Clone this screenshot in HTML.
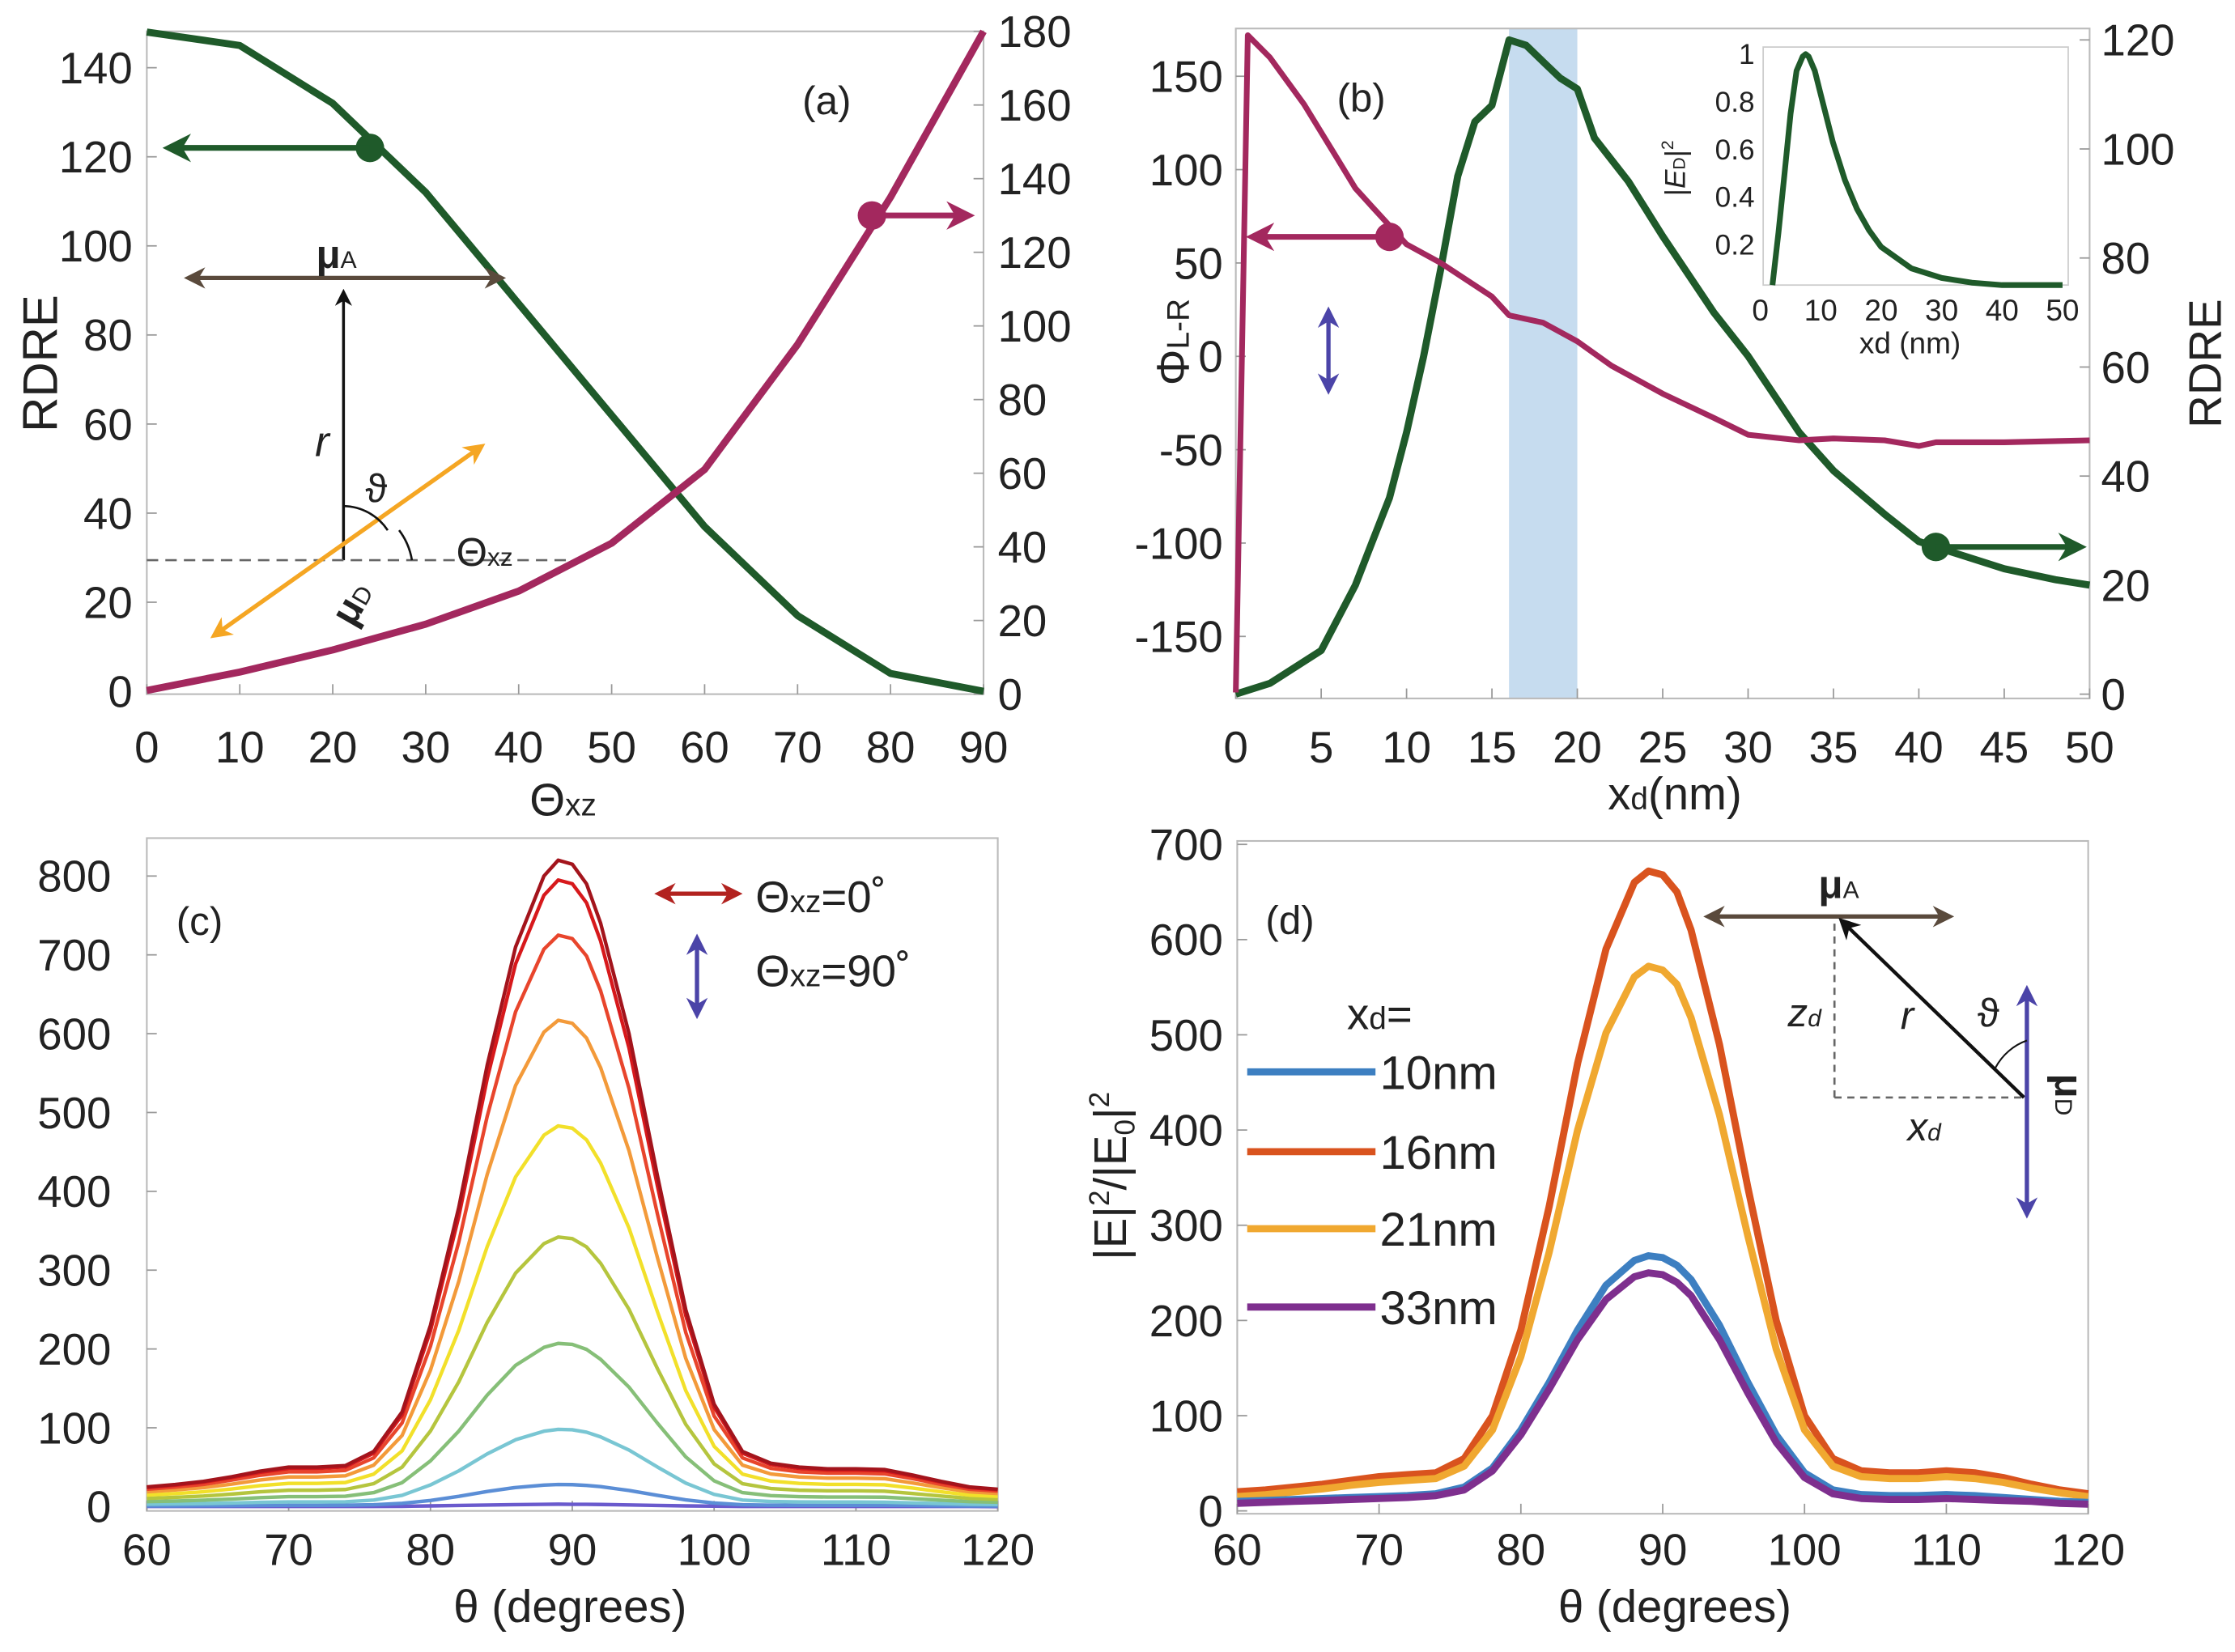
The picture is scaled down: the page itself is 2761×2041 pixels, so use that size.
<!DOCTYPE html>
<html><head><meta charset="utf-8"><style>
html,body{margin:0;padding:0;background:#fff;}
svg{display:block;}
text{font-family:"Liberation Sans",sans-serif;fill:#222;}
</style></head><body>
<svg id="chart" width="2761" height="2041" viewBox="0 0 1568 1159" preserveAspectRatio="none" xmlns="http://www.w3.org/2000/svg">
<defs>
<marker id="ag" viewBox="0 0 10 10" refX="8" refY="5" markerWidth="5" markerHeight="5" orient="auto-start-reverse"><path d="M0,0 L10,5 L0,10 L3,5 z" fill="#1f5a2a"/></marker>
<marker id="ap" viewBox="0 0 10 10" refX="8" refY="5" markerWidth="5" markerHeight="5" orient="auto-start-reverse"><path d="M0,0 L10,5 L0,10 L3,5 z" fill="#a3285e"/></marker>
<marker id="ab" viewBox="0 0 10 10" refX="8" refY="5" markerWidth="5" markerHeight="5" orient="auto-start-reverse"><path d="M0,0 L10,5 L0,10 L3,5 z" fill="#5a4a3c"/></marker>
<marker id="ak" viewBox="0 0 10 10" refX="8" refY="5" markerWidth="6" markerHeight="6" orient="auto-start-reverse"><path d="M0,0 L10,5 L0,10 L3,5 z" fill="#111"/></marker>
<marker id="ao" viewBox="0 0 10 10" refX="8" refY="5" markerWidth="5" markerHeight="5" orient="auto-start-reverse"><path d="M0,0 L10,5 L0,10 L3,5 z" fill="#f5a623"/></marker>
<marker id="av" viewBox="0 0 10 10" refX="8" refY="5" markerWidth="5" markerHeight="5" orient="auto-start-reverse"><path d="M0,0 L10,5 L0,10 L3,5 z" fill="#4b44a8"/></marker>
<marker id="ar" viewBox="0 0 10 10" refX="8" refY="5" markerWidth="5" markerHeight="5" orient="auto-start-reverse"><path d="M0,0 L10,5 L0,10 L3,5 z" fill="#b2221f"/></marker>
</defs>
</svg>
<script>
// ---- panel (a) data ----
const aTheta = [0,10,20,25,30,40,50,60,70,80,90];
const aRdre = [148,145,132,122,112,87,62,37,17,4,0];
const aPhiTheta = [0,10,20,30,40,50,60,70,80,90];
const aPhi = [1,6,12,19,28,41,61,95,135,180];
const aXTicks = [0,10,20,30,40,50,60,70,80,90];
const aYLTicks = [0,20,40,60,80,100,120,140];
const aYRTicks = [0,20,40,60,80,100,120,140,160,180];
// ---- panel (b) data ----
const bXp = [0,0.7,2,4,6,7,8,9,10,12,14,15,16,18,20,22,25,28,30,33,35,38,40,41,45,50];
const bPhi = [-180,172,160,135,105,90,80,70,60,50,38,32,22,18,8,-5,-20,-33,-42,-45,-44,-45,-48,-46,-46,-45];
const bXg = [0,2,5,7,8,9,10,11,12,13,14,15,16,17,18,19,20,21,23,25,28,30,33,35,38,40,42,45,48,50];
const bRdre = [0,2,8,20,28,36,48,62,78,95,105,108,120,119,116,113,111,102,94,84,70,62,48,41,33,28,26,23,21,20];
const bXTicks = [0,5,10,15,20,25,30,35,40,45,50];
const bYLTicks = [-150,-100,-50,0,50,100,150];
const bYRTicks = [0,20,40,60,80,100,120];
const insX = [2,3,4,5,6,7,7.5,8,9,10,12,14,16,18,20,25,30,35,40,50];
const insY = [0.03,0.25,0.5,0.75,0.93,0.99,1.0,0.99,0.93,0.83,0.63,0.47,0.35,0.26,0.19,0.1,0.06,0.04,0.03,0.03];
const insXTicks = [0,10,20,30,40,50];
const insYTicks = [0.2,0.4,0.6,0.8,1];
// ---- panel (c) data ----
const cTheta = [60,62,64,66,68,70,72,74,76,78,80,82,84,86,88,89,90,91,92,94,96,98,100,102,104,106,108,110,112,114,116,118,120];
const cShape = [25,28,32,38,45,50,50,52,70,120,230,380,560,710,800,820,815,790,740,600,420,250,130,70,55,50,48,48,47,40,32,25,22];
const cPeaks = [820,795,725,617,483,342,207,98,28,3];
const cColors = ['#a3141c','#d7191c','#e8452c','#f39a3a','#f2e02a','#b5c53e','#86bf78','#79c6d3','#5b8ed6','#6a5acd'];
const cXTicks = [60,70,80,90,100,110,120];
const cYTicks = [0,100,200,300,400,500,600,700,800];
// ---- panel (d) data ----
const dTheta = cTheta;
const d10 = [10,11,12,13,14,15,16,18,25,45,85,135,190,237,263,268,266,258,243,195,135,80,40,22,17,16,16,17,16,14,12,10,9];
const d16 = [20,22,25,28,32,36,38,40,55,100,190,320,470,590,660,672,668,650,610,490,340,200,100,55,42,40,40,42,40,35,28,22,18];
const d21 = [15,17,20,23,27,30,32,34,47,85,162,272,400,502,561,572,568,553,518,416,289,170,85,47,36,34,34,36,34,30,24,19,15];
const d33 = [8,9,10,11,12,13,14,16,22,42,80,128,180,222,246,250,248,240,226,180,124,72,35,18,13,12,12,13,12,11,10,8,7];
const dLabels = ['10nm','16nm','21nm','33nm'];
const dColors = ['#3d7fc1','#d9531e','#f0a830','#7e2f8e'];
const dXTicks = [60,70,80,90,100,110,120];
const dYTicks = [0,100,200,300,400,500,600,700];

const svg = document.getElementById('chart');
const NS = 'http://www.w3.org/2000/svg';
function mk(tag, name, attrs, parent){
  const e = document.createElementNS(NS, tag);
  
  
  for (const k in attrs) e.setAttribute(k, attrs[k]);
  (parent||svg).appendChild(e);
  return e;
}
function txt(name, x, y, s, size, anchor, extra){
  const t = mk('text', name, Object.assign({x:x, y:y, 'font-size':size, 'text-anchor':anchor||'middle'}, extra||{}));
  t.innerHTML = s;
  return t;
}
function poly(name, xs, ys, fx, fy, color, w){
  const pts = xs.map((x,i)=>fx(x).toFixed(1)+','+fy(ys[i]).toFixed(1)).join(' ');
  return mk('polyline', name, {points:pts, fill:'none', stroke:color, 'stroke-width':w, 'stroke-linejoin':'round'});
}
function frame(name,x0,y0,x1,y1){
  mk('rect', name, {x:x0,y:y0,width:x1-x0,height:y1-y0,fill:'none',stroke:'#bbb','stroke-width':1.2});
}
function line(name,x1,y1,x2,y2,color,w,extra){
  return mk('line', name, Object.assign({x1:x1,y1:y1,x2:x2,y2:y2,stroke:color,'stroke-width':w}, extra||{}));
}

// ================= Panel (a) =================
const ax = v => 103 + v/90*587;
const ayL = v => 485 - v*3.125;
const ayR = v => 487 - v*(465/180);
frame('panel-a-frame',103,22,690,487);
aXTicks.forEach(v=>{ line('a-x-tick',ax(v),487,ax(v),480,'#999',1); txt('a-x-tick-label',ax(v),535,v,31); });
aYLTicks.forEach(v=>{ line('a-yl-tick',103,ayL(v),110,ayL(v),'#999',1); txt('a-yl-tick-label',93,ayL(v)+11,v,31,'end'); });
aYRTicks.forEach(v=>{ line('a-yr-tick',690,ayR(v),683,ayR(v),'#999',1); txt('a-yr-tick-label',700,ayR(v)+11,v,31,'start'); });
txt('a-y-axis-title',0,0,'RDRE',34,'middle',{transform:'translate(40,255) rotate(-90)'});
txt('a-x-axis-title',395,572,'Θ<tspan font-size="22">xz</tspan>',32);
txt('a-panel-label',580,80,'(a)',28);
poly('a-rdre-line',aTheta,aRdre,ax,ayL,'#1f5a2a',5);
poly('a-phi-line',aPhiTheta,aPhi,ax,ayR,'#a3285e',5);
mk('circle','a-rdre-marker',{cx:ax(24),cy:ayL(122),r:10,fill:'#1f5a2a'});
line('a-rdre-axis-arrow',ax(24),ayL(122),118,ayL(122),'#1f5a2a',4,{'marker-end':'url(#ag)'});
mk('circle','a-phi-marker',{cx:ax(78),cy:ayR(130),r:10,fill:'#a3285e'});
line('a-phi-axis-arrow',ax(78),ayR(130),680,ayR(130),'#a3285e',4,{'marker-end':'url(#ap)'});
// diagram
line('a-mu-a-arrow',132,195,352,195,'#5a4a3c',3,{'marker-start':'url(#ab)','marker-end':'url(#ab)'});
line('a-r-arrow',241,393,241,205,'#111',2,{'marker-end':'url(#ak)'});
line('a-dashed-line',103,393,400,393,'#666',1.5,{'stroke-dasharray':'8,5'});
line('a-mu-d-arrow',150,446,338,313,'#f5a623',3,{'marker-start':'url(#ao)','marker-end':'url(#ao)'});
mk('path','a-theta-arc',{d:'M241,355 A38,38 0 0 1 272,372',fill:'none',stroke:'#111','stroke-width':1.5});
mk('path','a-big-theta-arc',{d:'M280,372 A48,48 0 0 1 289,393',fill:'none',stroke:'#111','stroke-width':1.5});
txt('a-mu-a-label',236,188,'<tspan font-weight="bold">μ</tspan><tspan font-size="17">A</tspan>',28);
txt('a-r-label',226,320,'r',30,'middle',{'font-style':'italic'});
txt('a-vartheta-label',264,352,'ϑ',28);
txt('a-theta-xz-label',340,397,'Θ<tspan font-size="18">xz</tspan>',28);
txt('a-mu-d-label',0,0,'<tspan font-weight="bold">μ</tspan><tspan font-size="17">D</tspan>',28,'middle',{transform:'translate(255,428) rotate(-60)'});

// ================= Panel (b) =================
const bx = v => 867 + v/50*599;
const byL = v => 250 - v*1.31;
const byR = v => 487 - v*3.825;
mk('rect','b-highlight-band',{x:bx(16),y:20,width:bx(20)-bx(16),height:470,fill:'#c6dcef'});
frame('panel-b-frame',867,20,1466,490);
bXTicks.forEach(v=>{ line('b-x-tick',bx(v),490,bx(v),483,'#999',1); txt('b-x-tick-label',bx(v),535,v,31); });
bYLTicks.forEach(v=>{ line('b-yl-tick',867,byL(v),874,byL(v),'#999',1); txt('b-yl-tick-label',858,byL(v)+11,v,31,'end'); });
bYRTicks.forEach(v=>{ line('b-yr-tick',1466,byR(v),1459,byR(v),'#999',1); txt('b-yr-tick-label',1474,byR(v)+11,v,31,'start'); });
txt('b-y-left-title',0,0,'Φ<tspan font-size="22">L-R</tspan>',32,'middle',{transform:'translate(834,240) rotate(-90)'});
txt('b-y-right-title',0,0,'RDRE',32,'middle',{transform:'translate(1558,255) rotate(-90)'});
txt('b-x-axis-title',1175,568,'x<tspan font-size="22">d</tspan>(nm)',32);
txt('b-panel-label',955,78,'(b)',28);
poly('b-rdre-line',bXg,bRdre,bx,byR,'#1f5a2a',5);
poly('b-phi-line',bXp,bPhi,bx,byL,'#a3285e',4);
mk('circle','b-phi-marker',{cx:bx(9),cy:byL(64),r:10,fill:'#a3285e'});
line('b-phi-axis-arrow',bx(9),byL(64),878,byL(64),'#a3285e',4,{'marker-end':'url(#ap)'});
mk('circle','b-rdre-marker',{cx:bx(41),cy:byR(27),r:10,fill:'#1f5a2a'});
line('b-rdre-axis-arrow',bx(41),byR(27),1460,byR(27),'#1f5a2a',4,{'marker-end':'url(#ag)'});
line('b-dipole-arrow',932,218,932,274,'#4b44a8',3,{'marker-start':'url(#av)','marker-end':'url(#av)'});
// inset
const ix = v => 1235 + v/50*212;
const iy = v => 205 - v*167;
mk('rect','inset-bg',{x:1237,y:33,width:214,height:167,fill:'#fff',stroke:'#ccc','stroke-width':1});
insXTicks.forEach(v=>{ txt('inset-x-tick-label',ix(v),225,v,21); });
insYTicks.forEach(v=>{ txt('inset-y-tick-label',1231,iy(v)+7,v,20,'end'); });
txt('inset-x-title',1340,248,'xd (nm)',21);
txt('inset-y-title',0,0,'|<tspan font-style="italic">E</tspan><tspan font-size="12">D</tspan>|<tspan font-size="12" dy="-8">2</tspan>',20,'middle',{transform:'translate(1182,118) rotate(-90)'});
poly('inset-line',insX,insY,ix,iy,'#1f5a2a',4);

// ================= Panel (c) =================
const cx = v => 103 + (v-60)/60*597;
const cy = v => 1057 - v*0.553;
frame('panel-c-frame',103,588,700,1060);
cXTicks.forEach(v=>{ line('c-x-tick',cx(v),1060,cx(v),1053,'#999',1); txt('c-x-tick-label',cx(v),1098,v,31); });
cYTicks.forEach(v=>{ line('c-y-tick',103,cy(v),110,cy(v),'#999',1); txt('c-y-tick-label',78,cy(v)+11,v,31,'end'); });
txt('c-x-axis-title',400,1138,'θ (degrees)',32);
txt('c-panel-label',140,656,'(c)',28);
cPeaks.slice().reverse().forEach((p,j)=>{
  const i = cPeaks.length-1-j;
  const ys = cShape.map(s=>s/820*p);
  poly('c-curve-'+i,cTheta,ys,cx,cy,cColors[i],2.5);
});
line('c-legend-arrow-0',462,627,518,627,'#b2221f',3,{'marker-start':'url(#ar)','marker-end':'url(#ar)'});
txt('c-legend-label-0',530,640,'Θ<tspan font-size="22">xz</tspan>=0˚',31,'start');
line('c-legend-arrow-90',489,658,489,712,'#4b44a8',3,{'marker-start':'url(#av)','marker-end':'url(#av)'});
txt('c-legend-label-90',530,692,'Θ<tspan font-size="22">xz</tspan>=90˚',31,'start');

// ================= Panel (d) =================
const dx = v => 868 + (v-60)/60*597;
const dy = v => 1060 - v*0.668;
frame('panel-d-frame',868,590,1465,1062);
dXTicks.forEach(v=>{ line('d-x-tick',dx(v),1062,dx(v),1055,'#999',1); txt('d-x-tick-label',dx(v),1098,v,31); });
dYTicks.forEach(v=>{ line('d-y-tick',868,dy(v),875,dy(v),'#999',1); txt('d-y-tick-label',858,dy(v)+11,v,31,'end'); });
txt('d-x-axis-title',1175,1138,'θ (degrees)',32);
txt('d-y-axis-title',0,0,'|E|<tspan font-size="20" dy="-12">2</tspan><tspan dy="12">/|E</tspan><tspan font-size="20" dy="6">0</tspan><tspan dy="-6">|</tspan><tspan font-size="20" dy="-12">2</tspan>',32,'middle',{transform:'translate(790,825) rotate(-90)'});
txt('d-panel-label',905,655,'(d)',28);
const dSeries = [d10,d16,d21,d33];
[1,2,0,3].forEach(i=>{ poly('d-curve-'+dLabels[i],dTheta,dSeries[i],dx,dy,dColors[i],5); });
txt('d-legend-title',945,722,'x<tspan font-size="22">d</tspan>=',31,'start');
const legY = [752,808,862,917];
dLabels.forEach((l,i)=>{
  line('d-legend-swatch-'+l,875,legY[i],965,legY[i],dColors[i],5);
  txt('d-legend-label-'+l,968,legY[i]+12,l,33,'start');
});
// diagram
line('d-mu-a-arrow',1198,643,1368,643,'#5a4a3c',3,{'marker-start':'url(#ab)','marker-end':'url(#ab)'});
line('d-zd-dashed',1287,648,1287,770,'#666',1.5,{'stroke-dasharray':'5,4'});
line('d-xd-dashed',1287,770,1420,770,'#666',1.5,{'stroke-dasharray':'5,4'});
line('d-r-arrow',1420,770,1292,646,'#111',2.5,{'marker-end':'url(#ak)'});
line('d-mu-d-arrow',1422,694,1422,852,'#4b44a8',3,{'marker-start':'url(#av)','marker-end':'url(#av)'});
mk('path','d-theta-arc',{d:'M1422,730 A40,40 0 0 0 1400,749',fill:'none',stroke:'#111','stroke-width':1.2});
txt('d-mu-a-label',1290,630,'<tspan font-weight="bold">μ</tspan><tspan font-size="17">A</tspan>',28);
txt('d-zd-label',1266,720,'z<tspan font-size="17">d</tspan>',28,'middle',{'font-style':'italic'});
txt('d-r-label',1338,722,'r',28,'middle',{'font-style':'italic'});
txt('d-vartheta-label',1395,720,'ϑ',28);
txt('d-xd-label',1350,800,'x<tspan font-size="17">d</tspan>',28,'middle',{'font-style':'italic'});
txt('d-mu-d-label',0,0,'<tspan font-weight="bold">μ</tspan><tspan font-size="17">D</tspan>',28,'middle',{transform:'translate(1442,768) rotate(90)'});
</script>
</body></html>
